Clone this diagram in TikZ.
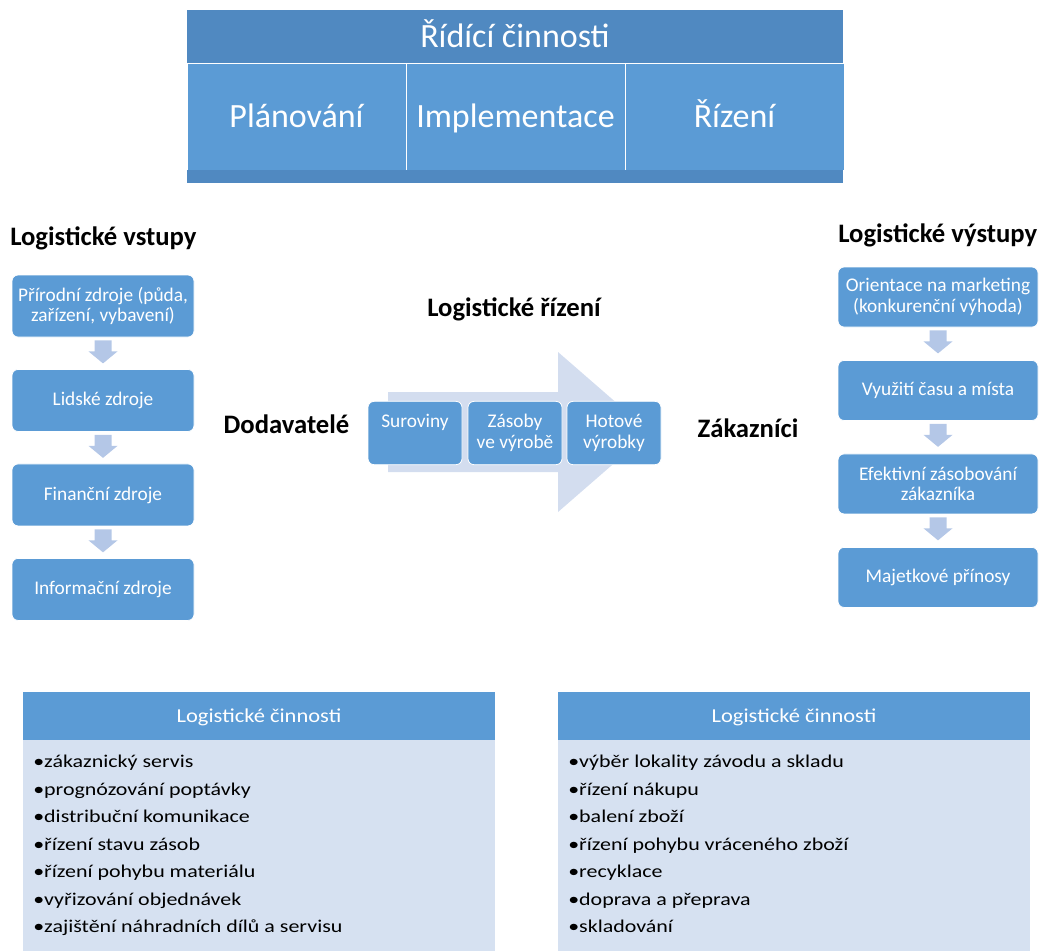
\documentclass[tikz,border=0pt]{standalone}
\usepackage{fontspec}
\setmainfont{Carlito}
\newfontfamily\itemfont{Carlito}[FakeStretch=1.22]
\newfontfamily\paneltitlefont{Carlito}[FakeStretch=1.14]
\usetikzlibrary{positioning,calc}
\definecolor{boxblue}{HTML}{5B9BD5}
\definecolor{hdrblue}{HTML}{5089C1}
\definecolor{arrowblue}{HTML}{B4C7E7}
\definecolor{bigarrow}{HTML}{D3DDEF}
\definecolor{panelbody}{HTML}{D6E1F1}
\begin{document}
\begin{tikzpicture}[x=0.75pt,y=-0.75pt,
  topcell/.style={draw=white,line width=0.75pt,fill=boxblue,text=white,outer sep=0pt,inner sep=0pt,
    minimum width=164.25pt,minimum height=80.25pt,text height=17pt,text depth=0pt,font=\fontsize{25.5}{30}\selectfont},
  flowbox/.style={draw=white,line width=0.6pt,fill=boxblue,text=white,rounded corners=4.5pt,align=center,
    inner sep=0pt,font=\fontsize{14.5}{15.5}\selectfont},
  inbox/.style={flowbox,minimum width=136.5pt,minimum height=46.5pt},
  outbox/.style={flowbox,minimum width=150pt,minimum height=45pt},
  stagebox/.style={flowbox,minimum width=70.5pt,minimum height=47.5pt},
  heading/.style={font=\fontsize{20}{24}\selectfont\bfseries,inner sep=0pt},
  downarrow/.style={fill=arrowblue},
  panelhead/.style={fill=boxblue,text=white,outer sep=0pt,minimum width=354pt,minimum height=36pt,
    text height=9.5pt,text depth=0pt,font=\paneltitlefont\fontsize{14.8}{18}\selectfont},
  panelbox/.style={fill=panelbody,outer sep=0pt,minimum width=354pt,minimum height=158.25pt},
  item/.style={font=\itemfont\fontsize{13.5}{16}\selectfont,inner sep=0pt,anchor=base west}]
  \useasboundingbox (0,0) rectangle (1045,951);

  \node[fill=hdrblue,text=white,outer sep=0pt,minimum width=492pt,minimum height=39.75pt,anchor=north west,
    text height=17pt,text depth=0pt,font=\fontsize{25.5}{30}\selectfont] (hdr) at (187,10) {Řídící činnosti};
  \node[topcell,anchor=north west] (plan) at (hdr.south west) {Plánování};
  \node[topcell,right=0pt of plan] (impl) {Implementace};
  \node[topcell,right=0pt of impl] (ctrl) {Řízení};
  \node[fill=hdrblue,outer sep=0pt,inner sep=0pt,minimum width=492pt,minimum height=9.75pt,anchor=north west] (strip) at (plan.south west) {};

  \node[heading,anchor=base west] (inputs) at (10,245) {Logistické vstupy};
  \node[inbox] (in1) at (103,306) {Přírodní zdroje (půda,\\zařízení, vybavení)};
  \node[inbox,below=23.75pt of in1] (in2) {Lidské zdroje};
  \node[inbox,below=23.75pt of in2] (in3) {Finanční zdroje};
  \node[inbox,below=23.75pt of in3] (in4) {Informační zdroje};
  \foreach \a in {in1,in2,in3}
    \fill[downarrow] ([shift={(-8.5,3)}]\a.south) -- ++(17,0) -- ++(0,11) -- ++(6,0) -- ++(-14.5,12)
      -- ++(-14.5,-12) -- ++(6,0) -- cycle;

  \node[heading,anchor=base west] (outputs) at (838,242) {Logistické výstupy};
  \node[outbox] (out1) at (938,297) {Orientace na marketing\\(konkurenční výhoda)};
  \node[outbox,below=24.5pt of out1] (out2) {Využití času a místa};
  \node[outbox,below=24.5pt of out2] (out3) {Efektivní zásobování\\zákazníka};
  \node[outbox,below=24.5pt of out3] (out4) {Majetkové přínosy};
  \foreach \a in {out1,out2,out3}
    \fill[downarrow] ([shift={(-8.5,3)}]\a.south) -- ++(17,0) -- ++(0,11) -- ++(6,0) -- ++(-14.5,12)
      -- ++(-14.5,-12) -- ++(6,0) -- cycle;

  \node[heading,anchor=base] (mgmt) at (514,316) {Logistické řízení};
  \node[heading,anchor=base] (suppliers) at (286.5,433) {Dodavatelé};
  \node[heading,anchor=base] (customers) at (748,437) {Zákazníci};
  \fill[bigarrow] (388,392) -- (558,392) -- (558,352) -- (650,432) -- (558,512) -- (558,472) -- (388,472) -- cycle;
  \node[stagebox] (raw) at (415,433) {Suroviny\\\vphantom{ý}};
  \node[stagebox] (wip) at (515,433) {Zásoby\\ve výrobě};
  \node[stagebox] (done) at (614,433) {Hotové\\výrobky};

  \node[panelhead,anchor=north west] (acts1) at (23,692) {Logistické činnosti};
  \node[panelbox,below=0pt of acts1] (acts1body) {};
  \foreach \t [count=\i] in {zákaznický servis,prognózování poptávky,distribuční komunikace,řízení stavu zásob,
      řízení pohybu materiálu,vyřizování objednávek,zajištění náhradních dílů a servisu}
    \node[item] at ($(acts1body.north west)+(10,27.5*\i)$) {•\t};

  \node[panelhead,anchor=north west] (acts2) at (558,692) {Logistické činnosti};
  \node[panelbox,below=0pt of acts2] (acts2body) {};
  \foreach \t [count=\i] in {výběr lokality závodu a skladu,řízení nákupu,balení zboží,řízení pohybu vráceného zboží,
      recyklace,doprava a přeprava,skladování}
    \node[item] at ($(acts2body.north west)+(10,27.5*\i)$) {•\t};
\end{tikzpicture}
\end{document}
